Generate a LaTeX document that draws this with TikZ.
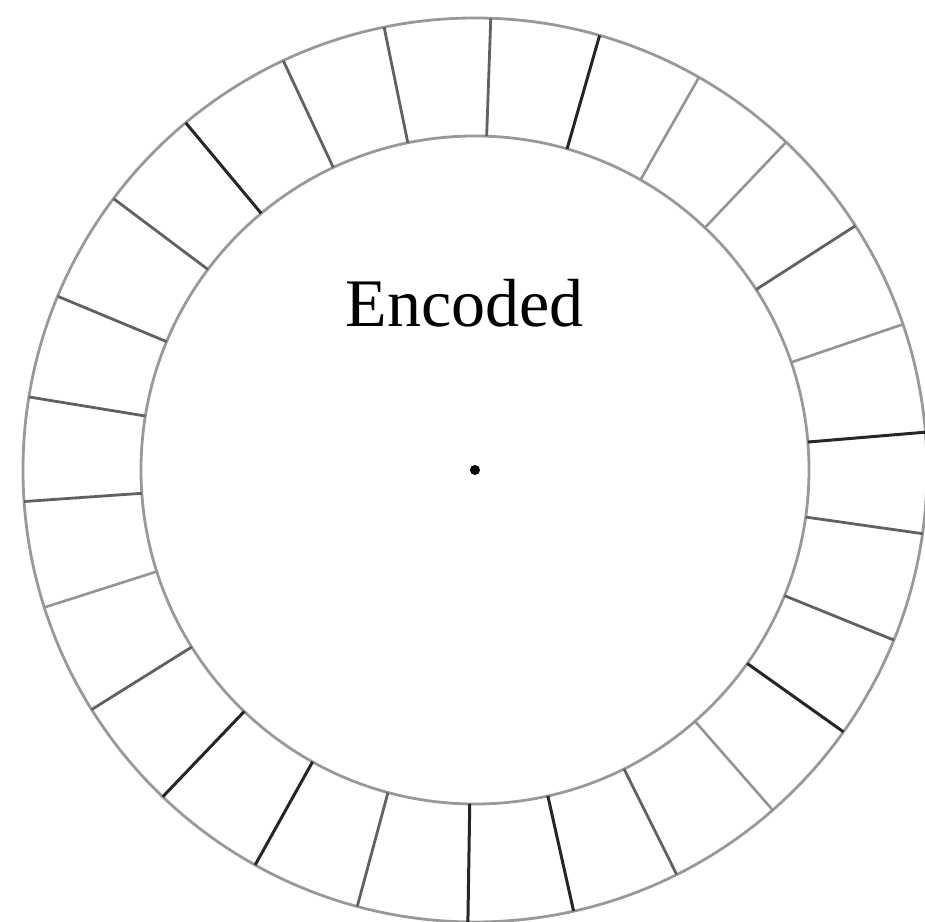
\documentclass[tikz,border=0pt]{standalone}
\usepackage{fontspec}
\setmainfont{Liberation Serif}
\usepackage{tikz}
\usetikzlibrary{calc,positioning}

\begin{document}
\begin{tikzpicture}[
    x=0.25mm, y=0.25mm,
    ring/.style={draw=black!40, line width=0.7mm},
    lightdivider/.style={draw=black!42, line width=0.65mm},
    divider/.style={draw=black!62, line width=0.7mm},
    darkdivider/.style={draw=black!85, line width=0.75mm},
    label/.style={font=\fontsize{48.4}{56}\selectfont, anchor=base}
]
\useasboundingbox (-475,-452) rectangle (450,470);
\coordinate (c) at (0,0);

% rings
\draw[ring] (c) circle[radius=452];
\draw[ring] (c) circle[radius=334];

% radial dividers
\foreach \a/\s in {88/divider, 74/darkdivider, 60.3/lightdivider, 46.5/lightdivider,
                   32.7/divider, 18.8/lightdivider, 4.8/darkdivider, -8.1/divider,
                   -22.1/divider, -35.4/darkdivider, -48.8/lightdivider, -63.5/divider,
                   -77.4/darkdivider, -90.9/darkdivider, -105.1/divider, -119.1/darkdivider,
                   -133.7/darkdivider, -148/divider, -162.3/lightdivider, -176/divider,
                   170.7/divider, 157.4/divider, 143.1/divider, 129.8/darkdivider,
                   115.1/divider, 101.6/divider}
    \draw[\s] ($(c)+(\a:334)$) -- ($(c)+(\a:452)$);

\node[label] (title) at (-10.5,143) {Encoded};
\fill (c) circle[radius=5] node (dot) {};
\end{tikzpicture}
\end{document}
